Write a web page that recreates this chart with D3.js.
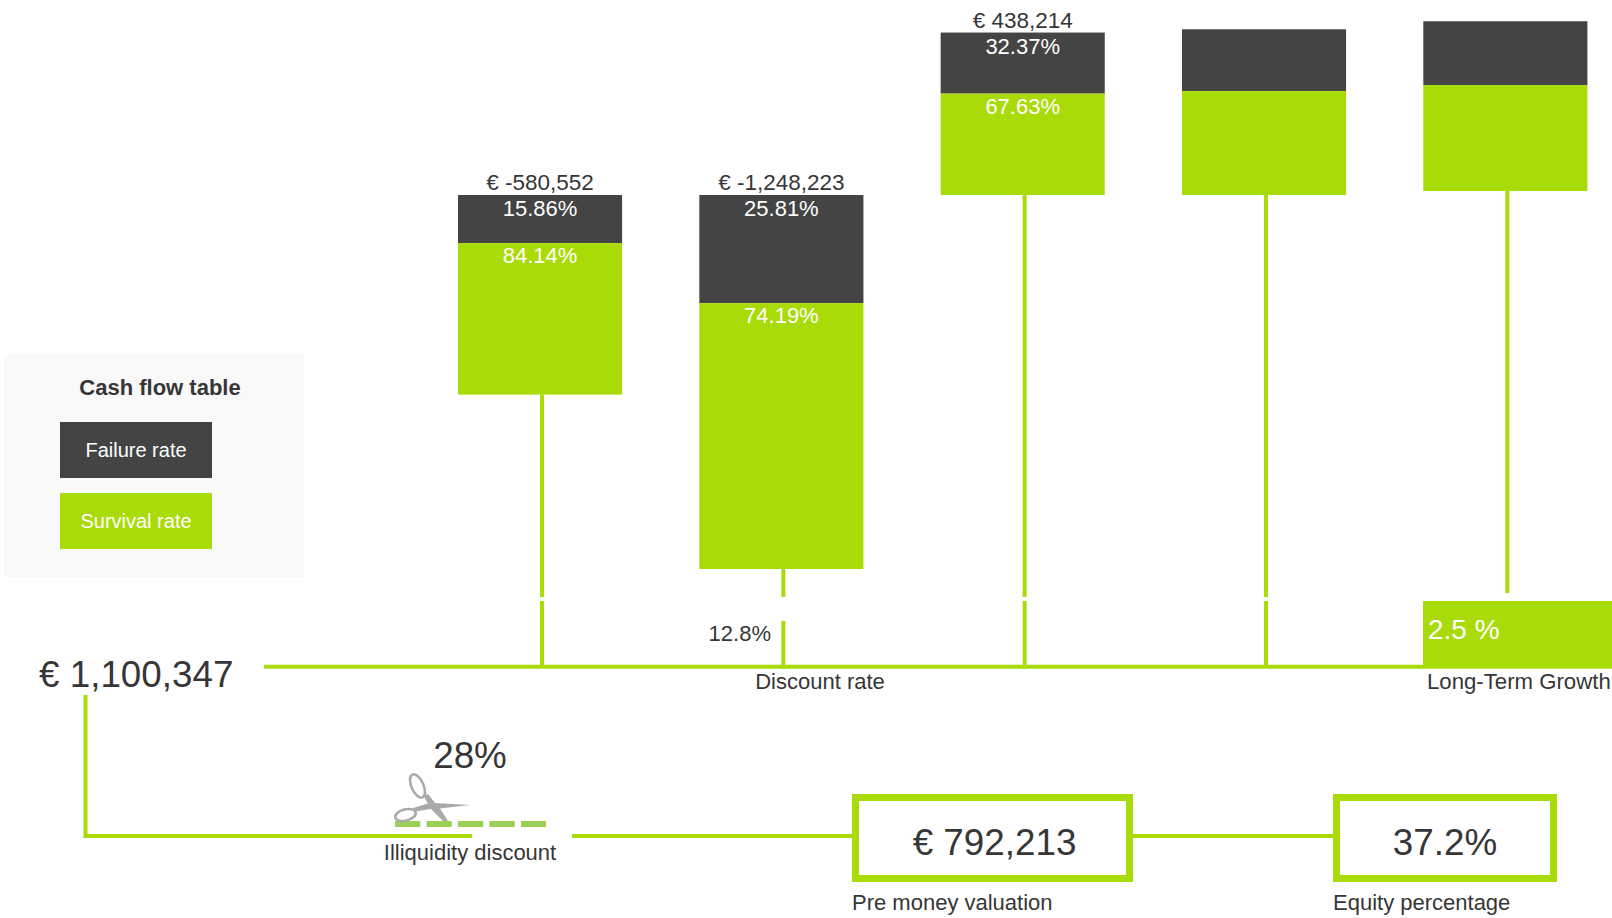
<!DOCTYPE html>
<html>
<head>
<meta charset="utf-8">
<script src="https://cdn.jsdelivr.net/npm/d3@7/dist/d3.min.js"></script>
<style>
  html, body { margin: 0; padding: 0; background: #fff; }
  svg { display: block; }
  text { font-family: "Liberation Sans", Arial, sans-serif; fill: #363636; }
</style>
</head>
<body>
<svg id="chart" width="1612" height="918"></svg>
<script>
// Cash flow per forecast column and the rates that split each bar
const periods = ["Y1", "Y2", "Y3", "Y4", "Y5"];
const cashFlows = [-580552, -1248223, 438214, 450800, 466200];
const failureRates = [15.86, 25.81, 32.37, 32.1, 32.7];
const survivalRates = [84.14, 74.19, 67.63, 67.9, 67.3];
const labelledPeriods = ["Y1", "Y2", "Y3"];

const legendTitle = "Cash flow table";
const legendItems = ["Failure rate", "Survival rate"];
const discountRate = "12.8%";
const longTermGrowth = "2.5 %";
const presentValue = "€ 1,100,347";
const illiquidityDiscount = "28%";
const preMoneyValuation = "€ 792,213";
const equityPercentage = "37.2%";

const GREEN = "#a9db09", DARK = "#444444", LINE_W = 4;
const SMALL = 22, BIG = 36.8;
const euro = n => "€ " + d3.format(",")(n).replace("−", "-");

const svg = d3.select("#chart");

// Columns
const x = d3.scaleBand().domain(periods).range([458, 1587.4]).paddingInner(0.32);

// Bar length grows with the absolute cash flow; each segment also keeps a minimum height
const MIN_SEGMENT = 24;
const length = d3.scaleLinear().domain([0, 1248223]).range([0, 326]);
const ZERO_Y = 195;
const lastColumnLift = p => (p === "Y5" ? 4 : 0);

const rows = periods.map((p, i) => {
  const base = length(Math.abs(cashFlows[i]));
  const failH = MIN_SEGMENT + base * failureRates[i] / 100;
  const survH = MIN_SEGMENT + base * survivalRates[i] / 100;
  const total = failH + survH;
  const top = (cashFlows[i] < 0 ? ZERO_Y : ZERO_Y - total) - lastColumnLift(p);
  return { p, i, value: cashFlows[i], failH, survH, top, split: top + failH, bottom: top + total };
});

// Axis rail and connectors
const RAIL_Y = 666.7;
const connectorX = d => x(d.p) + 84;
const line = (x1, y1, x2, y2) => svg.append("line")
  .attr("x1", x1).attr("y1", y1).attr("x2", x2).attr("y2", y2)
  .attr("stroke", GREEN).attr("stroke-width", LINE_W);

rows.forEach(d => {
  const cx = connectorX(d);
  const lastColumn = d.p === "Y5";
  line(cx, d.bottom, cx, lastColumn ? 593 : 597);
  if (!lastColumn) line(cx, d.p === "Y2" ? 621 : 601, cx, RAIL_Y);
});
line(264, RAIL_Y, 1423, RAIL_Y);

// Stacked bars
const bars = svg.append("g").selectAll("g").data(rows).join("g");
bars.append("rect")
  .attr("x", d => x(d.p)).attr("y", d => d.top)
  .attr("width", x.bandwidth()).attr("height", d => d.failH).attr("fill", DARK);
bars.append("rect")
  .attr("x", d => x(d.p)).attr("y", d => d.split)
  .attr("width", x.bandwidth()).attr("height", d => d.survH).attr("fill", GREEN);

const labelled = rows.filter(d => labelledPeriods.includes(d.p));
const labels = svg.append("g").attr("font-size", SMALL).attr("text-anchor", "middle");
labels.selectAll(".amount").data(labelled).join("text")
  .attr("x", d => x(d.p) + x.bandwidth() / 2).attr("y", d => d.top - 5)
  .attr("font-size", 22.5).text(d => euro(d.value));
labels.selectAll(".fail").data(labelled).join("text")
  .attr("x", d => x(d.p) + x.bandwidth() / 2).attr("y", d => d.top + 21)
  .style("fill", "#fff").text(d => failureRates[d.i] + "%");
labels.selectAll(".surv").data(labelled).join("text")
  .attr("x", d => x(d.p) + x.bandwidth() / 2).attr("y", d => d.split + 20)
  .style("fill", "#fff").text(d => survivalRates[d.i] + "%");

// Legend panel
svg.append("rect").attr("x", 4).attr("y", 354).attr("width", 300).attr("height", 223).attr("fill", "#f9f9f9");
svg.append("text").attr("x", 160).attr("y", 395).attr("text-anchor", "middle")
  .attr("font-size", 22).attr("font-weight", "bold").text(legendTitle);
const legendY = d3.scalePoint().domain(legendItems).range([422, 493]);
const legendColor = d3.scaleOrdinal().domain(legendItems).range([DARK, GREEN]);
const legend = svg.append("g").selectAll("g").data(legendItems).join("g");
legend.append("rect").attr("x", 60).attr("y", d => legendY(d)).attr("width", 152).attr("height", 56)
  .attr("fill", d => legendColor(d));
legend.append("text").attr("x", 136).attr("y", d => legendY(d) + 35).attr("text-anchor", "middle")
  .attr("font-size", 20).style("fill", "#fff").text(d => d);

// Discount rate and long-term growth
const plain = (tx, ty, size, str, anchor = "start") => svg.append("text")
  .attr("x", tx).attr("y", ty).attr("font-size", size).attr("text-anchor", anchor).text(str);

plain(771, 641, SMALL, discountRate, "end");
plain(820, 689, SMALL, "Discount rate", "middle");
svg.append("rect").attr("x", 1423).attr("y", 601).attr("width", 189).attr("height", 67.7).attr("fill", GREEN);
plain(1428, 639, 28, longTermGrowth).style("fill", "#fff");
plain(1427, 689, 22.2, "Long-Term Growth");

// Valuation flow
plain(39, 687, BIG, presentValue);
const FLOW_Y = 836;
line(85.5, 695, 85.5, FLOW_Y + 2);
line(84, FLOW_Y, 472, FLOW_Y);
line(572, FLOW_Y, 852, FLOW_Y);
line(1133, FLOW_Y, 1333, FLOW_Y);

plain(470, 768, BIG, illiquidityDiscount, "middle");
plain(470, 860, SMALL, "Illiquidity discount", "middle");

// Cut line and scissors
svg.append("line").attr("x1", 395).attr("x2", 546).attr("y1", 824).attr("y2", 824)
  .attr("stroke", "#9ccf56").attr("stroke-width", 6).attr("stroke-dasharray", "25.3 6.2");
const scissors = svg.append("g").attr("fill", "none").attr("stroke", "#aaaaaa");
scissors.append("ellipse").attr("cx", 0).attr("cy", 0).attr("rx", 6).attr("ry", 12.5)
  .attr("transform", "translate(417.5,786) rotate(-24)").attr("stroke-width", 2.6);
scissors.append("ellipse").attr("cx", 0).attr("cy", 0).attr("rx", 10.5).attr("ry", 5.6)
  .attr("transform", "translate(405.5,815) rotate(-14)").attr("stroke-width", 2.6);
scissors.append("path").attr("fill", "#aaaaaa").attr("stroke", "none")
  .attr("d", "M423.5 796 L428 794 L435 803 L470 805 L440 808.5 L448 821 L443 821 L431 809 L415 811.5 L413 808 L428 803.5 Z");

// Output boxes
const BOX_W = 7;
const box = (x0, x1, label, caption, shift) => {
  svg.append("rect").attr("x", x0 + BOX_W / 2).attr("y", 794 + BOX_W / 2)
    .attr("width", x1 - x0 - BOX_W).attr("height", 88 - BOX_W)
    .attr("fill", "#fff").attr("stroke", GREEN).attr("stroke-width", BOX_W);
  plain((x0 + x1) / 2 + shift, 855, BIG, label, "middle");
  plain(x0, 910, SMALL, caption);
};
box(852, 1133, preMoneyValuation, "Pre money valuation", 2);
box(1333, 1557, equityPercentage, "Equity percentage", 0);
</script>
</body>
</html>
